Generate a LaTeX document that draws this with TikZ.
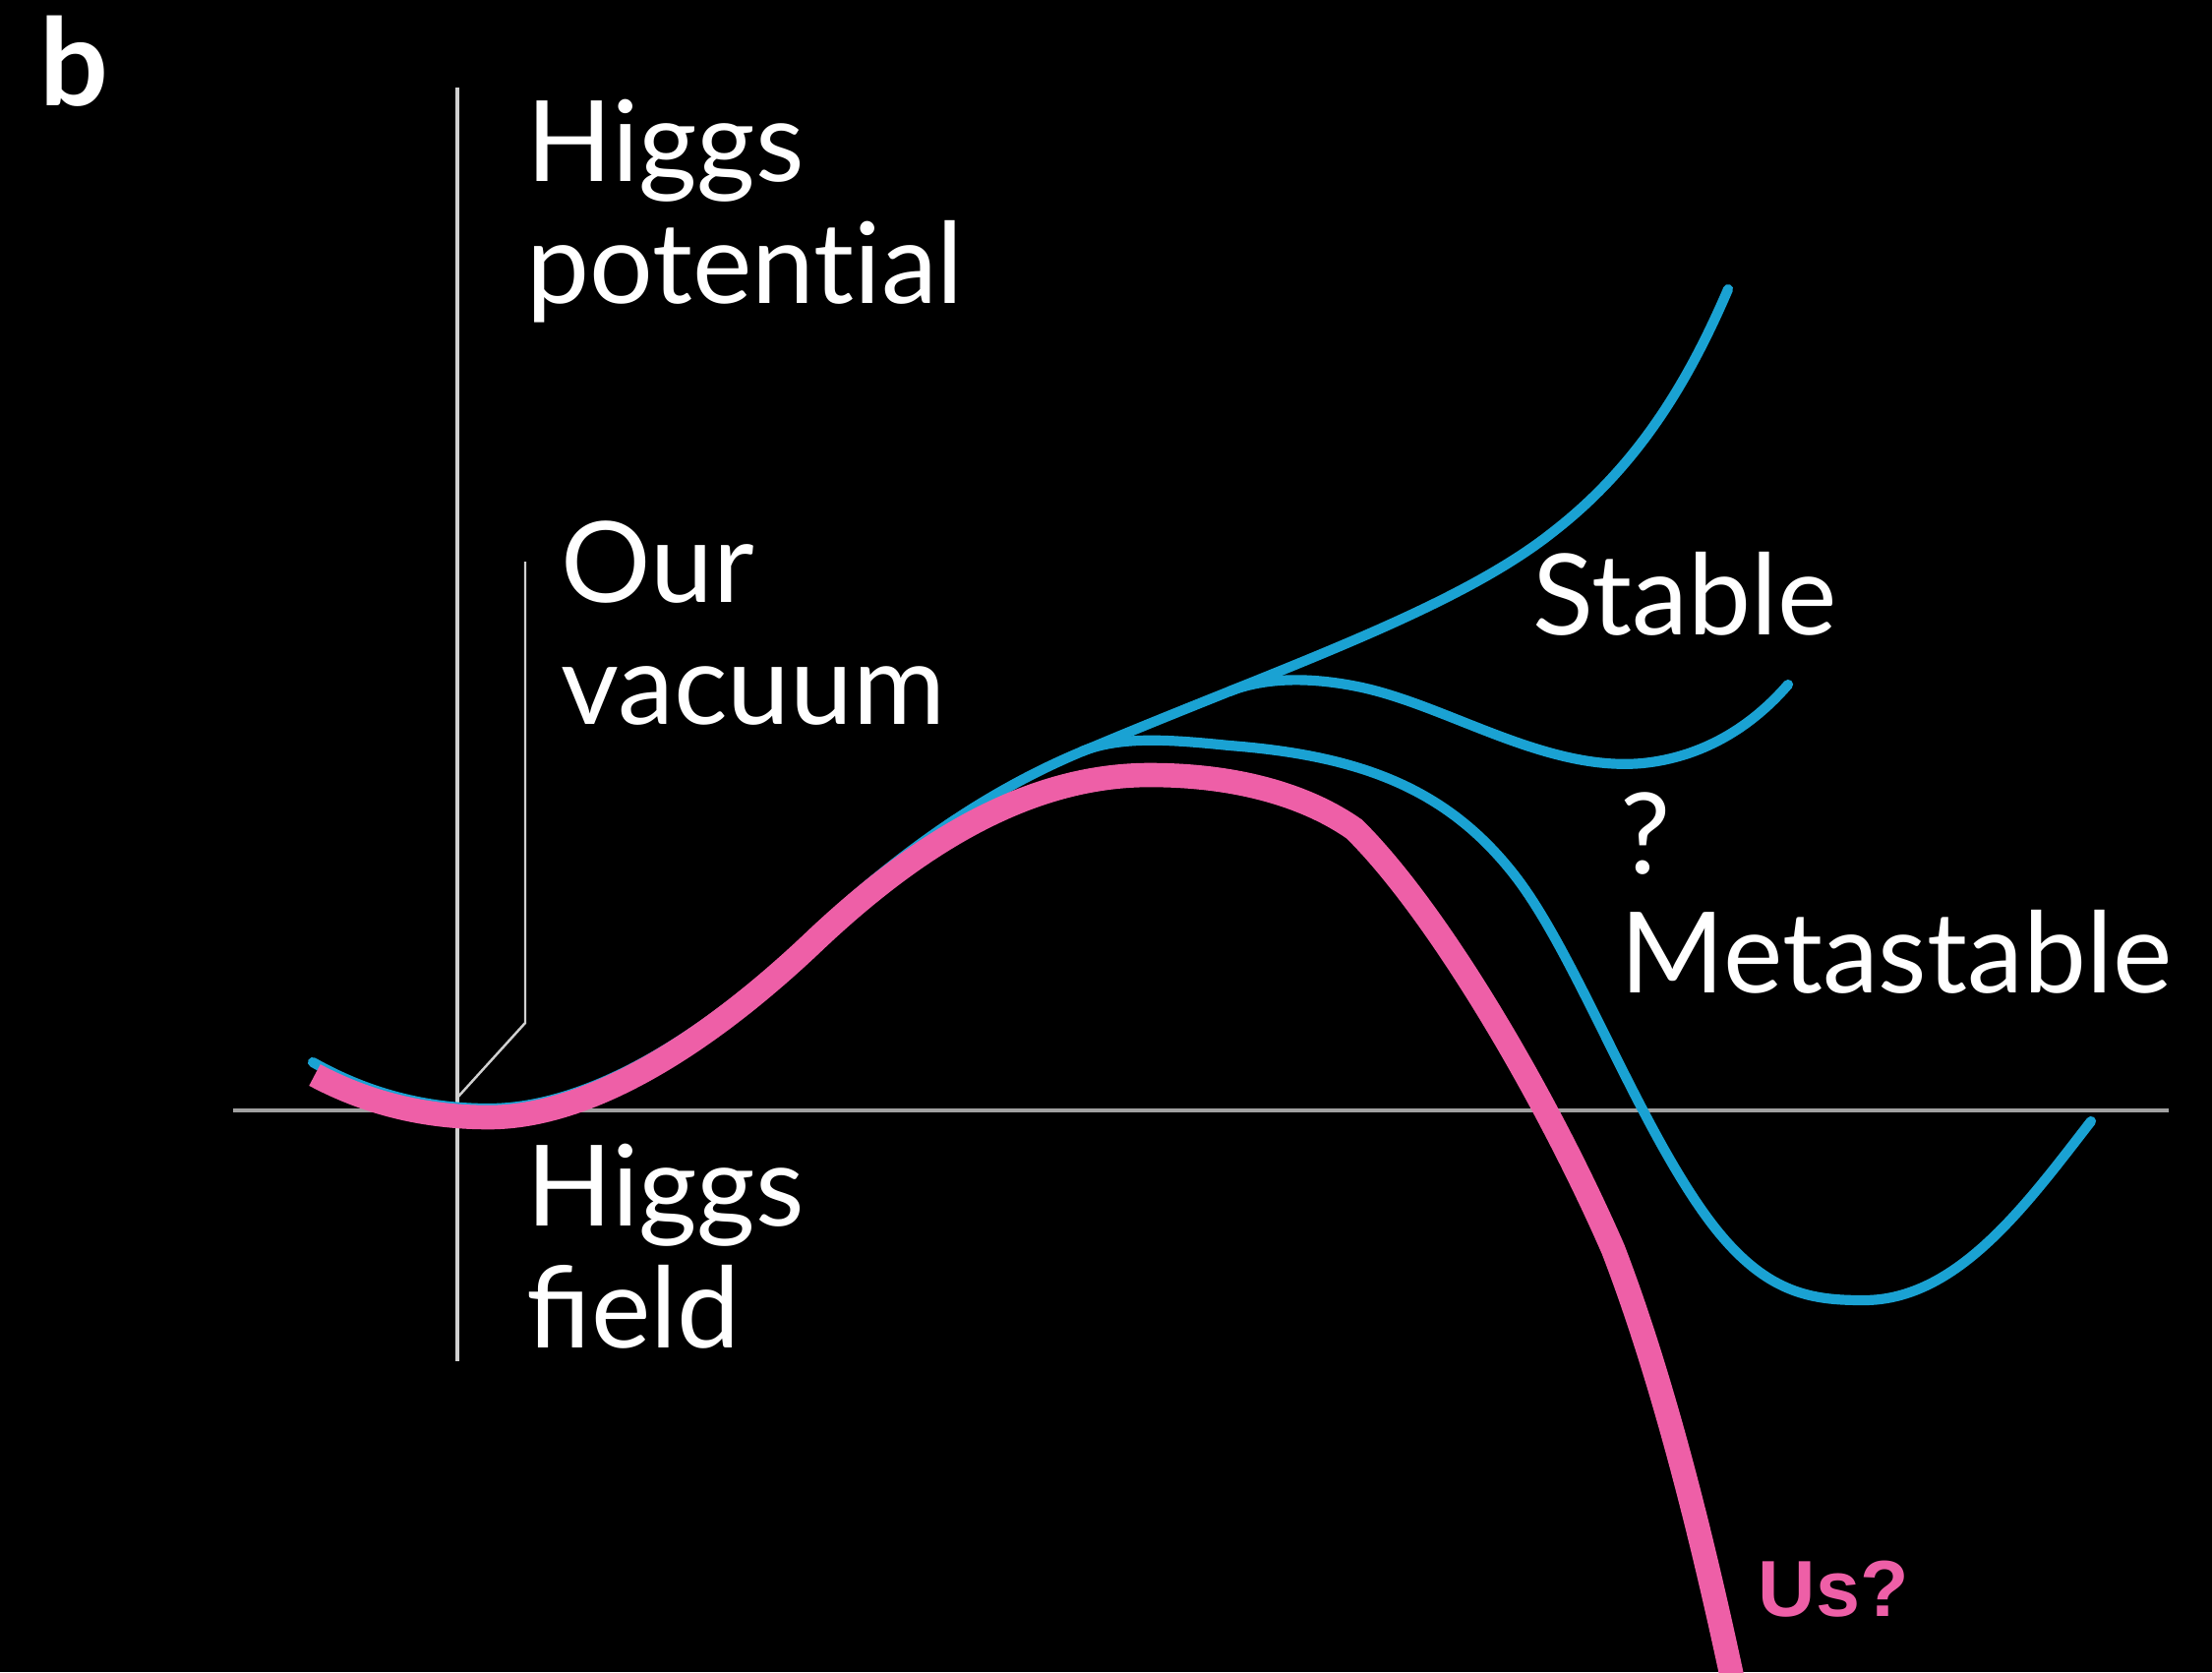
\documentclass[tikz,border=0pt]{standalone}
\usepackage{fontspec}
\setmainfont{Lato}
\newfontfamily\usfont{Liberation Sans}
\definecolor{hblue}{HTML}{1AA2D3}
\definecolor{hpink}{HTML}{EE5FA7}
\definecolor{axgray}{HTML}{A0A0A0}
\definecolor{axlight}{HTML}{D0D0D0}
\begin{document}
\begin{tikzpicture}[x=0.01cm,y=-0.01cm,
  lbl/.style={text=white, inner sep=0pt, anchor=base west, align=left, font=\fontsize{32.5}{35}\selectfont},
  blueline/.style={draw=hblue, line width=2.9pt, line cap=round},
  pinkline/.style={draw=hpink, line width=7pt},
  haxis/.style={draw=axgray, line width=1.2pt},
  vaxis/.style={draw=axlight, line width=0.9pt},
  leader/.style={draw=axlight, line width=0.7pt}]
\fill[black] (0,0) rectangle (2249,1700);
\useasboundingbox (0,0) rectangle (2249,1700);
% axes
\coordinate (xa) at (237,1129);
\coordinate (xb) at (2205,1129);
\coordinate (ya) at (465,89);
\coordinate (yb) at (465,1384);
\draw[haxis] (xa) -- (xb);
\draw[vaxis] (ya) -- (yb);
% leader for Our vacuum
\coordinate (lt) at (534,571);
\coordinate (lb) at (534,1040);
\coordinate (vac) at (465,1116);
\draw[leader] (lt) -- (lb) -- (vac);
% labels (base anchor = baseline of last line)
\node[text=white, inner sep=0pt, anchor=base west, font=\fontsize{35}{40}\selectfont\bfseries] (b) at (40,108) {b};
\node[lbl] (hp) at (535,308) {Higgs\\{\addfontfeatures{Ligatures=NoCommon}potential}};
\node[lbl] (ov) at (570,736) {Our\\vacuum};
\node[lbl] (hf) at (535,1370) {Higgs\\field};
\node[lbl] (st) at (1558,645) {Stable};
\node[lbl] (q) at (1647,888) {?};
\node[lbl] (ms) at (1647,1009) {Metastable};
\node[text=hpink, inner sep=0pt, anchor=base west, font=\usfont\fontsize{23}{26}\selectfont\bfseries] (us) at (1787,1643) {Us?};
% blue trunk
\draw[blueline] (318,1080) .. controls (380,1115) and (440,1127) .. (497,1127)
  .. controls (600,1127) and (720,1052) .. (830,946)
  .. controls (920,862) and (1010,800) .. (1110,760);
% stable branch
\draw[blueline] (1110,760) .. controls (1300,680) and (1480,620) .. (1580,540)
  .. controls (1670,470) and (1720,380) .. (1757,294);
% middle branch
\draw[blueline] (1250,703) .. controls (1285,689) and (1330,688) .. (1380,698)
  .. controls (1470,716) and (1570,785) .. (1670,776)
  .. controls (1730,770) and (1780,740) .. (1818,696);
% lower (metastable) branch
\draw[blueline] (1100,764) .. controls (1140,748) and (1190,752) .. (1250,758)
  .. controls (1380,768) and (1470,800) .. (1540,890)
  .. controls (1600,967) and (1660,1130) .. (1730,1230)
  .. controls (1790,1316) and (1840,1322) .. (1895,1322)
  .. controls (1990,1322) and (2060,1225) .. (2126,1140);
% pink
\draw[pinkline] (320,1093) .. controls (380,1125) and (440,1136) .. (497,1136)
  .. controls (600,1136) and (720,1060) .. (830,955)
  .. controls (950,842) and (1060,788) .. (1169,788)
  .. controls (1260,788) and (1330,810) .. (1377,843)
  .. controls (1460,925) and (1570,1110) .. (1640,1270)
  .. controls (1690,1400) and (1730,1560) .. (1762,1710);
\end{tikzpicture}
\end{document}
